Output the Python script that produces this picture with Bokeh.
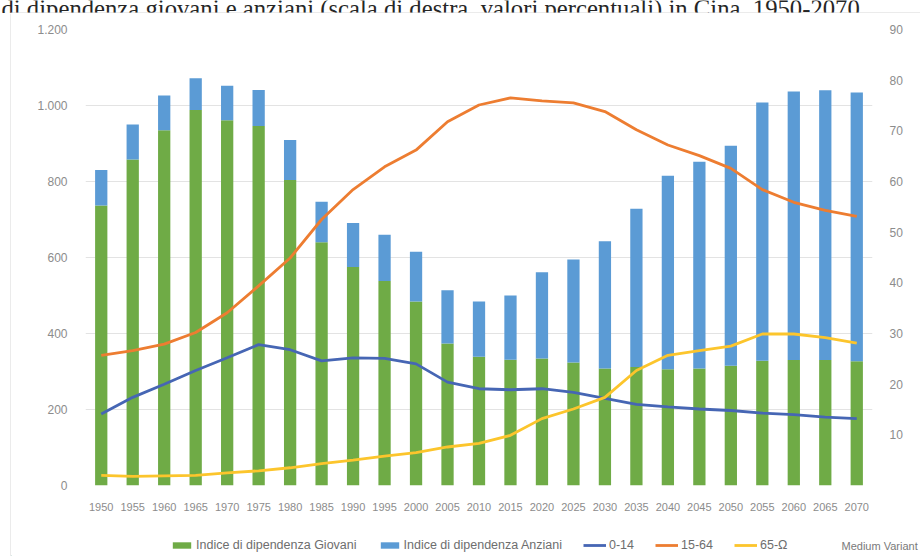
from bokeh.plotting import figure
from bokeh.layouts import column, row
from bokeh.models import (Range1d, LinearAxis, FixedTicker, Legend, LegendItem,
                          Label, ColumnDataSource)
from bokeh.embed import file_html
from bokeh.resources import INLINE

# Anni (scenario Medium Variant)
years = [str(y) for y in range(1950, 2075, 5)]

# Indici di dipendenza (per mille, scala di sinistra)
giovani = [737, 858, 935, 988, 961, 946, 804, 640, 575, 538, 484, 374, 339,
           331, 334, 324, 308, 312, 306, 308, 315, 328, 330, 330, 327]
anziani = [93, 92, 91, 84, 91, 95, 105, 107, 116, 122, 131, 140, 145,
           169, 227, 271, 335, 416, 509, 544, 579, 680, 707, 710, 707]

# Quote per fascia d'età (valori percentuali, scala di destra)
pop_0_14 = [14.1, 17.4, 20.0, 22.7, 25.2, 27.8, 26.8, 24.6, 25.2, 25.1, 24.0, 20.4, 19.1,
            18.9, 19.1, 18.4, 17.2, 16.0, 15.5, 15.1, 14.8, 14.3, 14.0, 13.5, 13.2]
pop_15_64 = [25.7, 26.6, 27.9, 30.2, 34.1, 39.4, 44.9, 52.5, 58.4, 62.9, 66.2, 71.8, 75.1,
             76.5, 75.9, 75.5, 73.8, 70.2, 67.2, 65.1, 62.6, 58.4, 55.9, 54.3, 53.1]
pop_65 = [2.0, 1.8, 1.9, 2.0, 2.5, 2.9, 3.5, 4.3, 5.0, 5.8, 6.5, 7.6, 8.3,
          9.9, 13.2, 15.1, 17.4, 22.7, 25.7, 26.6, 27.5, 29.9, 29.9, 29.2, 28.1]

left_ticks = [0, 200, 400, 600, 800, 1000, 1200]
left_labels = ["0", "200", "400", "600", "800", "1.000", "1.200"]
right_ticks = [10, 20, 30, 40, 50, 60, 70, 80, 90]

heading = "di dipendenza giovani e anziani (scala di destra, valori percentuali) in Cina, 1950-2070."
legend_labels = ["Indice di dipendenza Giovani", "Indice di dipendenza Anziani",
                 "0-14", "15-64", "65-Ω"]
note = "Medium Variant"

GREEN = "#6fab46"
BLUE = "#5b9bd5"
LINE_BLUE = "#4666b4"
ORANGE = "#ed7d31"
YELLOW = "#fcc52c"
TICK_COLOR = "#8c8c8c"
FRAME_COLOR = "#d6d6d6"


def unaligned(f):
    # keep each strip's frame independent inside the layout
    try:
        f.frame_align = False
    except AttributeError:
        pass
    return f


def blank(width, height):
    """A bare figure whose data space is its own pixel grid."""
    f = figure(width=width, height=height, x_range=Range1d(0, width),
               y_range=Range1d(0, height), output_backend="svg",
               toolbar_location=None, min_border=0)
    f.axis.visible = False
    f.grid.visible = False
    f.outline_line_color = None
    return unaligned(f)


# heading strip (its upper part runs off the page) with the frame's top edge
top = blank(920, 13)
top.text(x=[1], y=[5.5], text=[heading], text_font="Liberation Serif",
         text_font_size="24.7px", text_color="#262626", text_baseline="alphabetic")
top.segment(x0=[10], y0=[0.5], x1=[920], y1=[0.5], line_color=FRAME_COLOR, line_width=1)

# left edge of the chart frame
edge = blank(11, 543)
edge.segment(x0=[10.5], y0=[0], x1=[10.5], y1=[543], line_color=FRAME_COLOR, line_width=1)

src = ColumnDataSource(dict(
    year=years,
    giovani=giovani,
    totale=[g + a for g, a in zip(giovani, anziani)],
    p014=pop_0_14, p1564=pop_15_64, p65=pop_65,
))

p = figure(width=909, height=500, x_range=years, y_range=Range1d(0, 1200),
           output_backend="svg", toolbar_location=None, title=None,
           min_border_left=74, min_border_right=48,
           min_border_top=16, min_border_bottom=26)
unaligned(p)
p.outline_line_color = None
p.extra_y_ranges = {"pct": Range1d(0, 90)}

# stacked bars
p.vbar(x="year", top="giovani", width=0.39, source=src,
       fill_color=GREEN, line_color=None)
p.vbar(x="year", bottom="giovani", top="totale", width=0.39, source=src,
       fill_color=BLUE, line_color=None)

# percentage lines
p.line(x="year", y="p014", source=src, y_range_name="pct",
       line_color=LINE_BLUE, line_width=2.8)
p.line(x="year", y="p1564", source=src, y_range_name="pct",
       line_color=ORANGE, line_width=2.8)
p.line(x="year", y="p65", source=src, y_range_name="pct",
       line_color=YELLOW, line_width=2.8)


def style_axis(ax, standoff, size):
    ax.axis_line_color = None
    ax.major_tick_line_color = None
    ax.minor_tick_line_color = None
    ax.major_label_standoff = standoff
    ax.major_label_text_font = "Liberation Sans"
    ax.major_label_text_font_size = size
    ax.major_label_text_color = TICK_COLOR


yax = p.yaxis[0]
yax.ticker = FixedTicker(ticks=left_ticks)
yax.major_label_overrides = {t: l for t, l in zip(left_ticks, left_labels)}
style_axis(yax, 12, "12px")

rax = LinearAxis(y_range_name="pct", ticker=FixedTicker(ticks=right_ticks))
style_axis(rax, 11, "12px")
p.add_layout(rax, "right")

style_axis(p.xaxis[0], 11, "11px")

p.xgrid.grid_line_color = None
p.ygrid.ticker = FixedTicker(ticks=left_ticks)
p.ygrid.grid_line_color = "#e3e3e3"
p.ygrid.grid_line_width = 1

# legend strip: key renderers sit off-canvas, only their legend swatches show
leg = blank(909, 43)
g1 = leg.vbar(x=[-500], top=[1], width=1, fill_color=GREEN, line_color=None)
g2 = leg.vbar(x=[-500], top=[1], width=1, fill_color=BLUE, line_color=None)
g3 = leg.line(x=[-500, -400], y=[-500, -500], line_color=LINE_BLUE, line_width=2.8)
g4 = leg.line(x=[-500, -400], y=[-500, -500], line_color=ORANGE, line_width=2.8)
g5 = leg.line(x=[-500, -400], y=[-500, -500], line_color=YELLOW, line_width=2.8)
legend = Legend(items=[LegendItem(label=lab, renderers=[r])
                       for lab, r in zip(legend_labels, [g1, g2, g3, g4, g5])],
                orientation="horizontal", location=(159, 4))
legend.glyph_width = 23
legend.glyph_height = 8
legend.label_standoff = 3
legend.spacing = 21
legend.padding = 0
legend.margin = 0
legend.border_line_color = None
legend.background_fill_alpha = 0
legend.label_text_font = "Liberation Sans"
legend.label_text_font_size = "12.5px"
legend.label_text_color = "#6e6e6e"
legend.label_height = 14
leg.add_layout(legend, "center")
leg.add_layout(Label(x=830, y=11, text=note, text_font="Liberation Sans",
                     text_font_size="11px", text_color="#7a7a7a",
                     text_baseline="middle"))

layout = column(top, row(edge, column(p, leg)))
open("out.html", "w").write(file_html(layout, INLINE))
